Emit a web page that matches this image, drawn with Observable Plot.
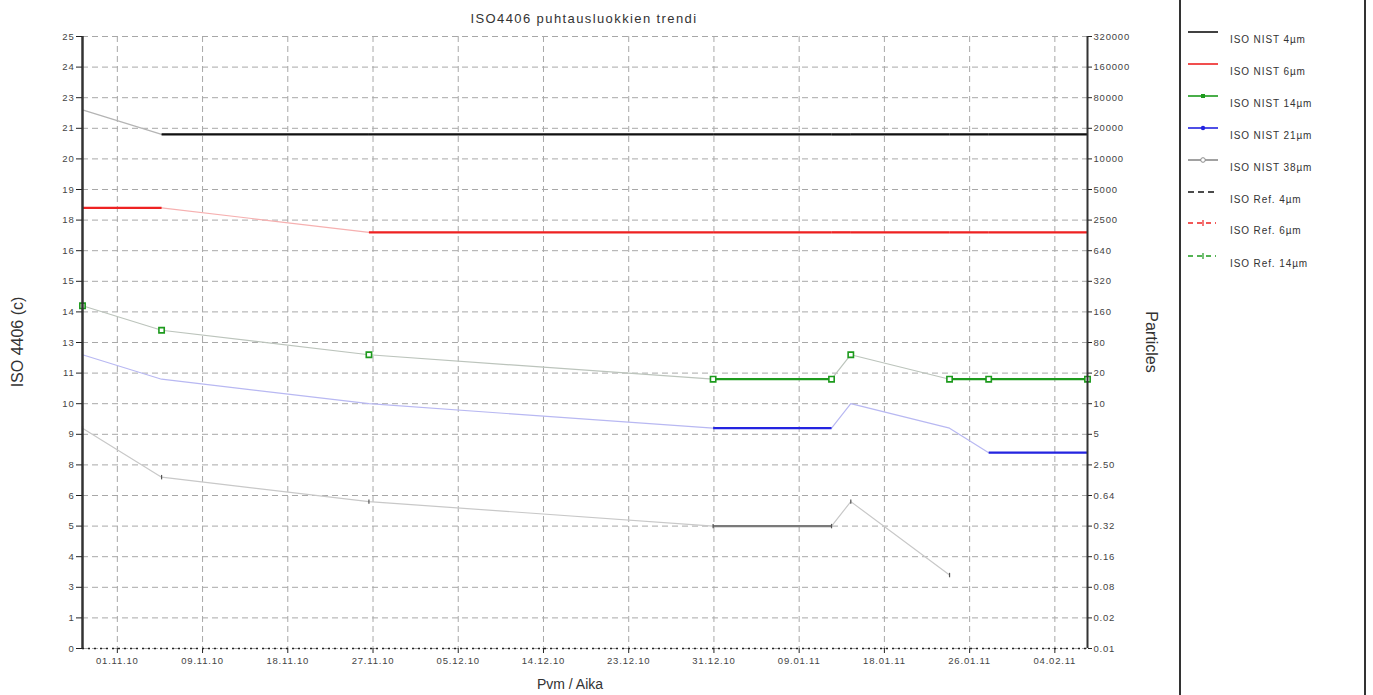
<!DOCTYPE html>
<html>
<head>
<meta charset="utf-8">
<script src="https://cdn.jsdelivr.net/npm/d3@7"></script>
<script src="https://cdn.jsdelivr.net/npm/@observablehq/plot@0.6"></script>
<style>
  body { margin: 0; background: #fff; font-family: "Liberation Sans", Arial, sans-serif; }
  #wrap { position: relative; width: 1373px; height: 695px; overflow: hidden; background: #fff; }
  #chart { position: absolute; left: 0; top: 0; }
  #chart svg text { letter-spacing: 0.8px; }
  .lbl { position: absolute; white-space: nowrap; color: #333; line-height: 1; }
  .title { left: 584px; top: 18px; transform: translate(-50%, -50%); font-size: 13px; letter-spacing: 1.4px; }
  .ylab { left: 18px; top: 342px; transform: translate(-50%, -50%) rotate(-90deg); font-size: 16px; }
  .y2lab { left: 1151px; top: 342px; transform: translate(-50%, -50%) rotate(90deg); font-size: 16px; }
  .xlab { left: 570px; top: 684px; transform: translate(-50%, -50%); font-size: 14px; }
  #legendBox { position: absolute; left: 1179px; top: -2px; width: 183px; height: 700px;
               border-left: 2px solid #333; border-right: 2px solid #333; }
  .lrow { position: absolute; left: 1188px; height: 14px; }
  .lrow svg { position: absolute; left: 0; top: 0; }
  .lrow span { position: absolute; left: 42px; top: 9px; font-size: 10px; letter-spacing: 0.9px; color: #333; white-space: nowrap; }
</style>
</head>
<body>
<div id="wrap">
  <div id="chart"></div>
  <div class="lbl title">ISO4406 puhtausluokkien trendi</div>
  <div class="lbl ylab">ISO 4406 (c)</div>
  <div class="lbl y2lab">Particles</div>
  <div class="lbl xlab">Pvm / Aika</div>
  <div id="legendBox"></div>
  <div id="legend"></div>
</div>
<script>
// ---- data ----
const sampleTimes = [
  "2010-10-28T11:00:00Z", "2010-11-05T12:00:00Z", "2010-11-26T14:00:00Z",
  "2010-12-31T14:00:00Z", "2011-01-12T15:00:00Z", "2011-01-14T14:00:00Z",
  "2011-01-24T15:00:00Z", "2011-01-28T14:30:00Z", "2011-02-07T15:40:00Z"
];
const iso4um  = [22, 21, 21, 21, 21, 21, 21, 21, 21];
const iso6um  = [18, 18, 17, 17, 17, 17, 17, 17, 17];
const iso14um = [14, 13, 12, 11, 11, 12, 11, 11, 11];
const iso21um = [12, 11, 10,  9,  9, 10,  9,  8,  8];
const iso38um = [ 9,  7,  6,  5,  5,  6,  3, null, null];

const isoTickLabels = ["25","24","23","21","20","19","18","16","15","14","13","11","10","9","8","6","5","4","3","1","0"];
const particleTickLabels = ["320000","160000","80000","20000","10000","5000","2500","640","320","160","80","20","10","5","2.50","0.64","0.32","0.16","0.08","0.02","0.01"];
const dateTickLabels = ["01.11.10","09.11.10","18.11.10","27.11.10","05.12.10","14.12.10","23.12.10","31.12.10","09.01.11","18.01.11","26.01.11","04.02.11"];

const seriesNames = ["ISO NIST 4µm","ISO NIST 6µm","ISO NIST 14µm","ISO NIST 21µm","ISO NIST 38µm"];
const refNames = ["ISO Ref. 4µm","ISO Ref. 6µm","ISO Ref. 14µm"];

// ---- styles (kept apart from the data) ----
const boldColors  = ["#111111", "#ee2222", "#1d9a1d", "#2424e0", "#7a7a7a"];
const faintColors = ["#b4b4b4", "#f6b0b0", "#bcc4bc", "#b8b8f2", "#c8c8c8"];
const refColors   = ["#111111", "#ee2222", "#1d9a1d"];

// ---- build tables ----
const dates = sampleTimes.map(s => new Date(s));
const allSeries = [iso4um, iso6um, iso14um, iso21um, iso38um];
const seriesRows = allSeries.map((vals, s) =>
  vals.map((v, i) => ({date: dates[i], value: v, series: seriesNames[s]})).filter(d => d.value != null));
const flatSegs = seriesRows.map(rows => {
  const out = [];
  for (let i = 0; i < rows.length - 1; i++)
    if (rows[i].value === rows[i + 1].value)
      out.push({d1: rows[i].date, d2: rows[i + 1].date, v: rows[i].value});
  return out;
});

const yTicks = d3.range(0, 21).map(k => k * 1.25);
const yIdx = d => 20 - Math.round(d / 1.25);
const parseTick = d3.utcParse("%d.%m.%y");
const t0 = parseTick(dateTickLabels[0]).getTime();
const tickStep = 26 / 3 * 86400000;
const xTicks = dateTickLabels.map((_, i) => new Date(t0 + i * tickStep));
const xIdx = d => Math.round((d.getTime() - t0) / tickStep);

const tickSym = {
  draw(ctx, size) { const h = Math.sqrt(size) / 2; ctx.moveTo(0, -h); ctx.lineTo(0, h); }
};

const marks = [
  Plot.gridX(xTicks, {stroke: "#a8a8a8", strokeOpacity: 1, strokeDasharray: "6,4"}),
  Plot.gridY(yTicks, {stroke: "#a8a8a8", strokeOpacity: 1, strokeDasharray: "6,4"}),
];
seriesRows.forEach((rows, s) => {
  marks.push(Plot.line(rows, {x: "date", y: "value", stroke: faintColors[s], strokeWidth: 1.2}));
});
seriesRows.forEach((rows, s) => {
  marks.push(Plot.link(flatSegs[s], {x1: "d1", x2: "d2", y1: "v", y2: "v", stroke: boldColors[s], strokeWidth: 2.3}));
});
marks.push(Plot.dot(seriesRows[2], {x: "date", y: "value", symbol: "square", r: 3, stroke: boldColors[2], fill: "white", strokeWidth: 1.6}));
marks.push(Plot.dot(seriesRows[4], {x: "date", y: "value", symbol: tickSym, r: 2.5, stroke: "#555", strokeWidth: 1.2}));

marks.push(
  Plot.ruleY([0], {stroke: "#222", strokeWidth: 1.6, strokeDasharray: "2,4"}),
  Plot.ruleX([dates[0]], {stroke: "#333", strokeWidth: 2.5}),
  Plot.ruleX([dates[dates.length - 1]], {stroke: "#333", strokeWidth: 2}),
  Plot.axisY(yTicks, {anchor: "left", tickSize: 6, tickPadding: 2, stroke: "#222", fill: "#444",
    tickFormat: d => isoTickLabels[yIdx(d)]}),
  Plot.axisY(yTicks, {anchor: "right", tickSize: 4, tickPadding: 2, stroke: "#222", fill: "#444",
    tickFormat: d => particleTickLabels[yIdx(d)]}),
  Plot.axisX(xTicks, {anchor: "bottom", tickSize: 5, tickPadding: 4, stroke: "#222", fill: "#444",
    tickFormat: d => dateTickLabels[xIdx(d)]})
);

const chart = Plot.plot({
  width: 1373, height: 695,
  marginLeft: 82, marginRight: 286, marginTop: 36, marginBottom: 47,
  style: {fontFamily: "'Liberation Sans', Arial, sans-serif", fontSize: "9.5px", color: "#444", background: "transparent"},
  x: {type: "utc", domain: [dates[0], dates[dates.length - 1]], label: null},
  y: {domain: [0, 25], label: null},
  marks
});
document.getElementById("chart").appendChild(chart);

// ---- legend ----
const legend = document.getElementById("legend");
const legendItems = [
  {name: seriesNames[0], color: boldColors[0], kind: "line"},
  {name: seriesNames[1], color: boldColors[1], kind: "line"},
  {name: seriesNames[2], color: boldColors[2], kind: "square"},
  {name: seriesNames[3], color: boldColors[3], kind: "dot"},
  {name: seriesNames[4], color: "#8a8a8a", kind: "circle"},
  {name: refNames[0], color: refColors[0], kind: "dash"},
  {name: refNames[1], color: refColors[1], kind: "dashTick"},
  {name: refNames[2], color: refColors[2], kind: "dashTick"},
];
const rowTops = [32, 64, 96, 128, 160, 192, 223, 256];
legendItems.forEach((it, i) => {
  const row = document.createElement("div");
  row.className = "lrow";
  row.style.top = (rowTops[i] - 7) + "px";
  let sw = "";
  const c = it.color;
  if (it.kind === "dash") {
    sw = `<line x1="0" y1="7" x2="28" y2="7" stroke="${c}" stroke-width="1.6" stroke-dasharray="6,4"/>`;
  } else if (it.kind === "dashTick") {
    sw = `<line x1="0" y1="7" x2="28" y2="7" stroke="${c}" stroke-width="1.4" stroke-dasharray="5,4"/>` +
         `<line x1="15" y1="4" x2="15" y2="10" stroke="${c}" stroke-width="1.2"/>`;
  } else {
    sw = `<line x1="0" y1="7" x2="30" y2="7" stroke="${c}" stroke-width="1.6"/>`;
    if (it.kind === "square") sw += `<rect x="13" y="5" width="4" height="4" fill="${c}"/>`;
    if (it.kind === "dot") sw += `<circle cx="15" cy="7" r="2.2" fill="${c}"/>`;
    if (it.kind === "circle") sw += `<circle cx="15" cy="7" r="2.3" fill="white" stroke="${c}" stroke-width="1"/>`;
  }
  row.innerHTML = `<svg width="32" height="14">${sw}</svg><span>${it.name}</span>`;
  legend.appendChild(row);
});
</script>
</body>
</html>
